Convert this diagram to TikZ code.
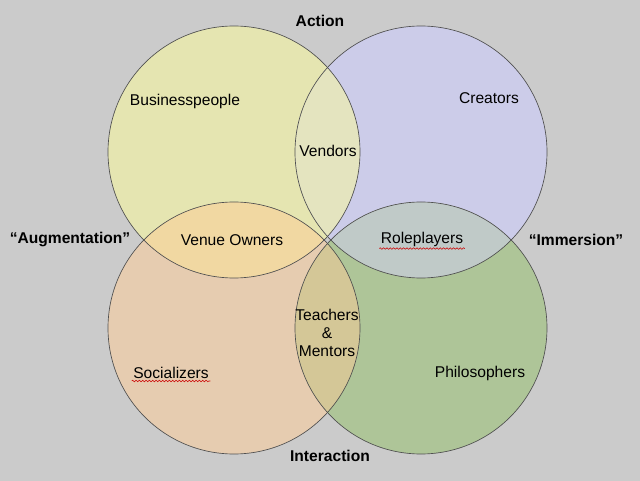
\documentclass[tikz,border=0pt]{standalone}
\usepackage{fontspec}
\setmainfont{Liberation Sans}
\usetikzlibrary{decorations.pathmorphing}
\definecolor{bggray}{HTML}{CBCBCB}
\definecolor{actfill}{HTML}{E5E5B1}
\definecolor{crefill}{HTML}{CCCCE9}
\definecolor{socfill}{HTML}{E6CCB0}
\definecolor{phifill}{HTML}{AEC598}
\definecolor{vendfill}{HTML}{E4E4BF}
\definecolor{venufill}{HTML}{F1D8A2}
\definecolor{rolefill}{HTML}{C0CAC8}
\definecolor{teachfill}{HTML}{D4C797}
\definecolor{rimgray}{HTML}{505050}
\tikzset{
  region/.style={font=\fontsize{11.7}{13.5}\selectfont, align=center, inner sep=1pt},
  axis label/.style={font=\fontsize{11.7}{14}\selectfont\bfseries},
  spell/.style={red!80!black, line width=0.4pt,
    decorate, decoration={snake, amplitude=0.6pt, segment length=2.5pt}}
}
\def\rad{94.5pt}

\begin{document}
\begin{tikzpicture}[x=0.75pt,y=-0.75pt]
\useasboundingbox (0,0) rectangle (640,481);
\fill[bggray] (0,0) rectangle (640,481);

\coordinate (tl) at (234,152);
\coordinate (tr) at (421,152);
\coordinate (bl) at (234,328);
\coordinate (br) at (421,328);

% the four circles
\fill[actfill] (tl) circle (\rad);
\fill[crefill] (tr) circle (\rad);
\fill[socfill] (bl) circle (\rad);
\fill[phifill] (br) circle (\rad);

% overlaps
\begin{scope}
\clip (tl) circle (\rad);
\fill[vendfill] (tr) circle (\rad);
\fill[venufill] (bl) circle (\rad);
\end{scope}
\begin{scope}
\clip (br) circle (\rad);
\fill[rolefill] (tr) circle (\rad);
\fill[teachfill] (bl) circle (\rad);
\end{scope}

\draw[rimgray, line width=0.5pt] (tl) circle (\rad);
\draw[rimgray, line width=0.5pt] (tr) circle (\rad);
\draw[rimgray, line width=0.5pt] (bl) circle (\rad);
\draw[rimgray, line width=0.5pt] (br) circle (\rad);

% axis labels
\node[axis label] (action) at (320,21) {Action};
\node[axis label] (interact) at (330,456) {Interaction};
\node[axis label] (augment) at (70,240) {“Augmentation”};
\node[axis label] (immerse) at (576,240) {“Immersion”};

% regions
\node[region] (business) at (185,101) {Businesspeople};
\node[region] (creators) at (489,98) {Creators};
\node[region] (vendors) at (328,151) {Vendors};
\node[region] (venue) at (232,240) {Venue Owners};
\node[region] (role) at (422,239) {Roleplayers};
\node[region] (teach) at (327,333) {Teachers\\\&\\Mentors};
\node[region] (social) at (171,373) {Socializers};
\node[region] (philo) at (480,373) {Philosophers};

\draw[spell] ([yshift=-0.5pt]role.south west) -- ([yshift=-0.5pt]role.south east);
\draw[spell] ([yshift=-0.5pt]social.south west) -- ([yshift=-0.5pt]social.south east);
\end{tikzpicture}
\end{document}
